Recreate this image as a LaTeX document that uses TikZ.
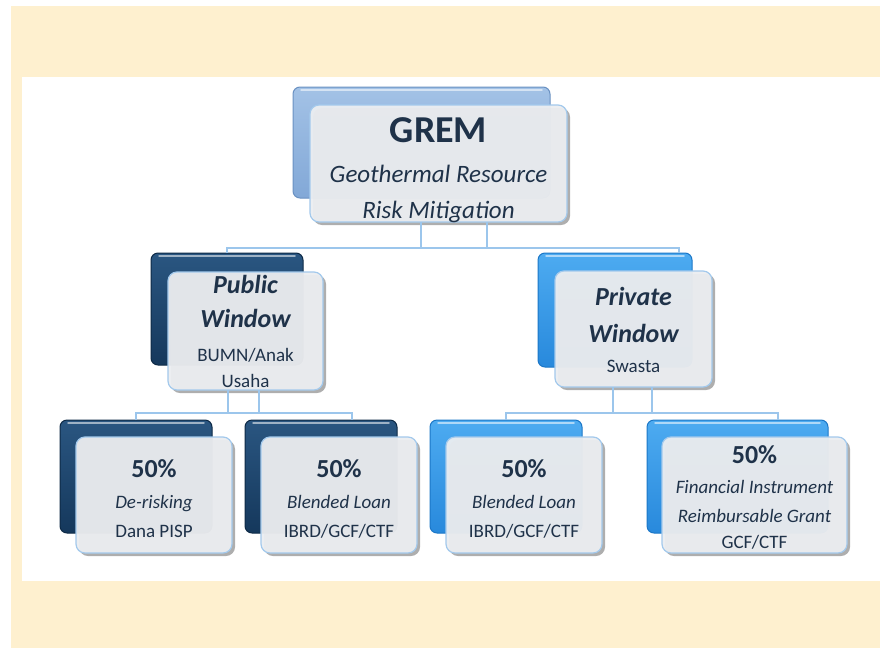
\documentclass[tikz,border=0pt]{standalone}
\usepackage{fontspec}
\setmainfont{Carlito}
\usetikzlibrary{shadows}
\definecolor{cream}{HTML}{FEF0CF}
\definecolor{txt}{HTML}{1F3249}
\definecolor{conncol}{HTML}{9CC6EC}
\definecolor{frontfill}{HTML}{ECEEF1}
\definecolor{frontdraw}{HTML}{A3C9EC}
\definecolor{gremtop}{HTML}{A3C2E6}
\definecolor{grembot}{HTML}{82A8D7}
\definecolor{gremdraw}{HTML}{6A91C2}
\definecolor{pubtop}{HTML}{2A5681}
\definecolor{pubbot}{HTML}{15385C}
\definecolor{pubdraw}{HTML}{0E2A46}
\definecolor{privtop}{HTML}{4DABF1}
\definecolor{privbot}{HTML}{2889DC}
\definecolor{privdraw}{HTML}{1C77C7}
\tikzset{
  conn/.style={draw=conncol, line width=1.6pt},
  boxbase/.style={rectangle, rounded corners=7pt, inner sep=0pt, outer sep=0pt, anchor=north west},
  backgrem/.style={boxbase, top color=gremtop, bottom color=grembot, draw=gremdraw, line width=1pt},
  backpub/.style={boxbase, top color=pubtop, bottom color=pubbot, draw=pubdraw, line width=1pt},
  backpriv/.style={boxbase, top color=privtop, bottom color=privbot, draw=privdraw, line width=1pt},
  frontbox/.style={boxbase, rounded corners=9pt, fill=frontfill, fill opacity=0.95, draw=frontdraw, line width=1.2pt,
    drop shadow={shadow xshift=3pt, shadow yshift=-3pt, opacity=0.45, fill=black!70}},
  gloss/.style={draw=white, draw opacity=0.55, line width=1.5pt, line cap=round},
  tl/.style={anchor=base, inner sep=0pt, text=txt},
  fgrem/.style={tl, font=\fontsize{38}{40}\selectfont\bfseries},
  fgremsub/.style={tl, font=\fontsize{25}{28}\selectfont\itshape},
  fwin/.style={tl, font=\fontsize{26}{28}\selectfont\bfseries\itshape},
  fpct/.style={tl, font=\fontsize{26}{28}\selectfont\bfseries},
  freg/.style={tl, font=\fontsize{19}{21}\selectfont},
  fital/.style={tl, font=\fontsize{19}{21}\selectfont\itshape},
}
\newcommand{\glossline}[1]{\draw[gloss] ([xshift=8pt,yshift=-3pt]#1.north west) -- ([xshift=-8pt,yshift=-3pt]#1.north east);}
\begin{document}
\begin{tikzpicture}[x=1pt,y=-1pt]
\useasboundingbox (0,0) rectangle (880,648);
\fill[white] (0,0) rectangle (880,648);
\fill[cream] (11,6) rectangle (880,648);
\fill[white] (22,77) rectangle (880,581);

% back boxes
\node[backgrem, minimum width=257pt, minimum height=111pt] (grembk) at (293,87) {};
\node[backpub, minimum width=152pt, minimum height=112pt] (pubbk) at (151,253) {};
\node[backpriv, minimum width=154pt, minimum height=114pt] (privbk) at (538,253) {};
\node[backpub, minimum width=152pt, minimum height=113pt] (bonebk) at (60,420) {};
\node[backpub, minimum width=152pt, minimum height=113pt] (btwobk) at (245,420) {};
\node[backpriv, minimum width=152pt, minimum height=113pt] (bthreebk) at (430,420) {};
\node[backpriv, minimum width=181pt, minimum height=113pt] (bfourbk) at (647,420) {};
\glossline{grembk}
\glossline{pubbk}
\glossline{privbk}
\glossline{bonebk}
\glossline{btwobk}
\glossline{bthreebk}
\glossline{bfourbk}

% connector coordinates
\coordinate (ga) at (421,248);
\coordinate (gb) at (487,248);
\coordinate (gr) at (679,248);
\coordinate (pa) at (228,413);
\coordinate (pb) at (259,413);
\coordinate (pr) at (352,413);
\coordinate (qa) at (613,413);
\coordinate (qb) at (652,413);
\coordinate (qr) at (778,413);

% front boxes
\node[frontbox, minimum width=257pt, minimum height=117pt] (grem) at (310,105) {};
\node[frontbox, minimum width=155pt, minimum height=118pt] (pub) at (168,272) {};
\node[frontbox, minimum width=157pt, minimum height=116pt] (priv) at (555,271) {};
\node[frontbox, minimum width=156pt, minimum height=116pt] (bone) at (76,437) {};
\node[frontbox, minimum width=156pt, minimum height=116pt] (btwo) at (261,437) {};
\node[frontbox, minimum width=156pt, minimum height=116pt] (bthree) at (446,437) {};
\node[frontbox, minimum width=185pt, minimum height=116pt] (bfour) at (662,437) {};

% connectors
\draw[conn] (ga |- grem.south) -- (ga);
\draw[conn] (gb |- grem.south) -- (gb);
\draw[conn] (pubbk.north) |- (gr) -- (gr |- privbk.north);
\draw[conn] (pa |- pub.south) -- (pa);
\draw[conn] (pb |- pub.south) -- (pb);
\draw[conn] (bonebk.north) |- (pr) -- (pr |- btwobk.north);
\draw[conn] (qa |- priv.south) -- (qa);
\draw[conn] (qb |- priv.south) -- (qb);
\draw[conn] (bthreebk.north) |- (qr) -- (qr |- bfourbk.north);

% texts
\node[fgrem] (t1) at (438.5,142) {GREM};
\node[fgremsub] (t2) at (438.5,182) {Geothermal Resource};
\node[fgremsub] (t3) at (438.5,218) {Risk Mitigation};

\node[fwin] (t4) at (245.5,293) {Public};
\node[fwin] (t5) at (245.5,327) {Window};
\node[freg] (t6) at (245.5,361) {BUMN/Anak};
\node[freg] (t7) at (245.5,387) {Usaha};

\node[fwin] (t8) at (633.5,305) {Private};
\node[fwin] (t9) at (633.5,342) {Window};
\node[freg] (t10) at (633.5,372) {Swasta};

\node[fpct] (t11) at (154,477) {50\%};
\node[fital] (t12) at (154,508) {De-risking};
\node[freg] (t13) at (154,537) {Dana PISP};

\node[fpct] (t14) at (339,477) {50\%};
\node[fital] (t15) at (339,508) {Blended Loan};
\node[freg] (t16) at (339,537) {IBRD/GCF/CTF};

\node[fpct] (t17) at (524,477) {50\%};
\node[fital] (t18) at (524,508) {Blended Loan};
\node[freg] (t19) at (524,537) {IBRD/GCF/CTF};

\node[fpct] (t20) at (754.5,463) {50\%};
\node[fital] (t21) at (754.5,493) {Financial Instrument};
\node[fital] (t22) at (754.5,522) {Reimbursable Grant};
\node[freg] (t23) at (754.5,548) {GCF/CTF};
\end{tikzpicture}
\end{document}
